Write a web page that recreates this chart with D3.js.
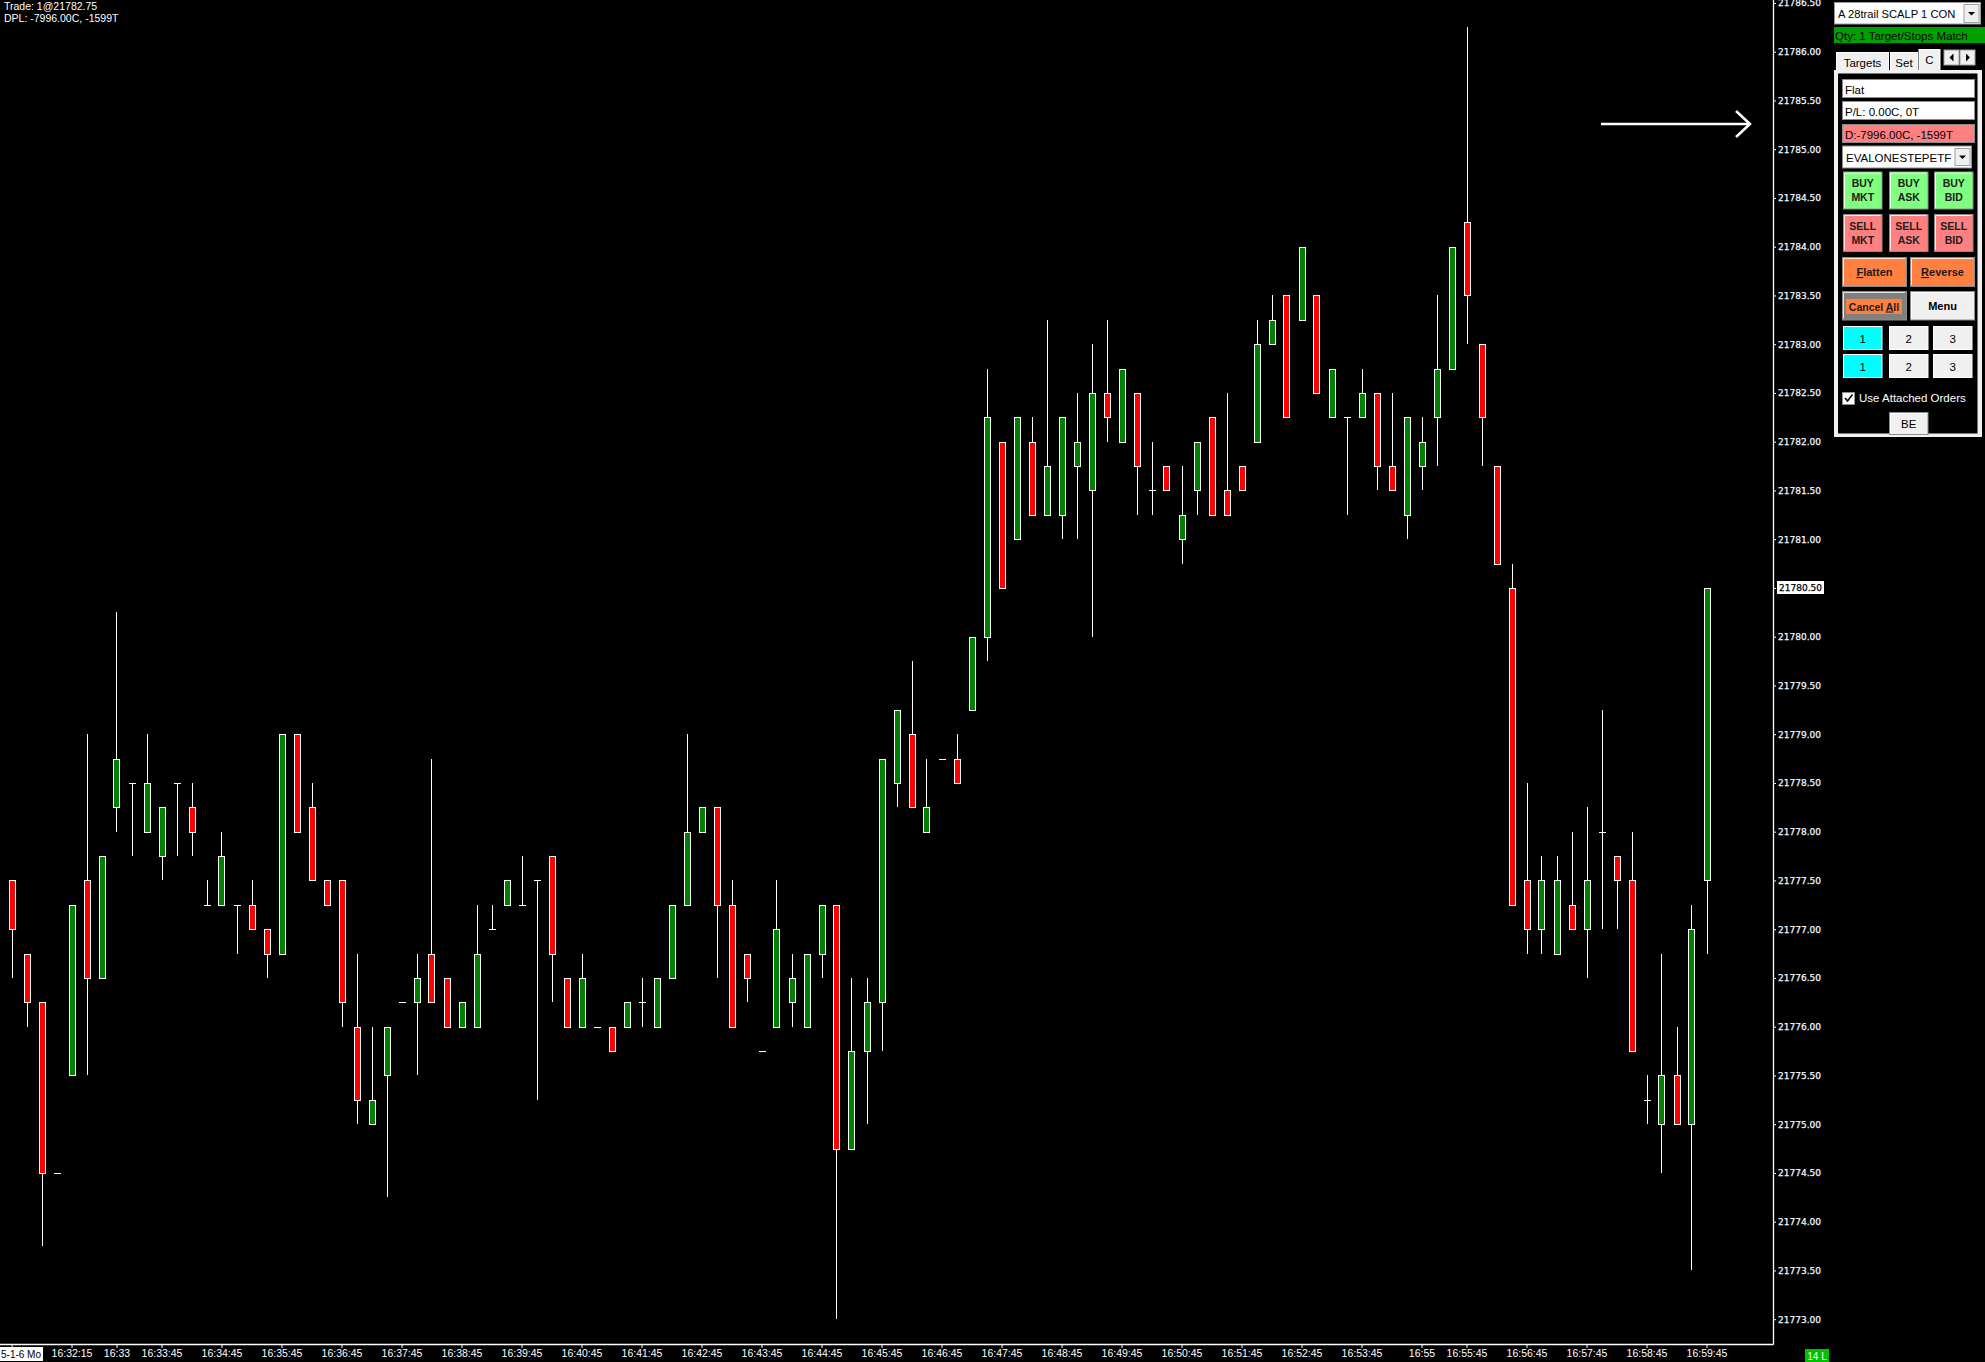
<!DOCTYPE html>
<html><head><meta charset="utf-8">
<script src="https://cdn.jsdelivr.net/npm/d3@7"></script>
<style>
html,body{margin:0;padding:0;background:#000;overflow:hidden;}
svg{display:block;}
</style></head><body>
<svg id="c" width="1985" height="1362"></svg>
<script>
// ---------- DATA (15-second bars) ----------
const opens  = [21777.50,21776.75,21776.25,21774.50,21775.50,21777.50,21776.50,21778.25,21778.50,21778.00,
                21777.75,21778.50,21778.25,21777.25,21777.25,21777.25,21777.25,21777.00,21776.75,21779.00,
                21778.25,21777.50,21777.50,21776.00,21775.00,21775.50,21776.25,21776.25,21776.75,21776.50,
                21776.00,21776.00,21777.00,21777.25,21777.25,21777.50,21777.75,21776.50,21776.00,21776.00,
                21776.00,21776.00,21776.25,21776.00,21776.50,21777.25,21778.00,21778.25,21777.25,21776.75,
                21775.75,21776.00,21776.25,21776.00,21776.75,21777.25,21774.75,21775.75,21776.25,21778.50,
                21779.00,21778.00,21778.75,21778.75,21779.25,21780.00,21782.00,21781.00,21782.00,21781.25,
                21781.25,21781.75,21781.50,21782.50,21782.00,21782.50,21781.50,21781.75,21781.00,21781.50,
                21782.25,21781.50,21781.75,21782.00,21783.00,21783.50,21783.25,21783.50,21782.25,21782.25,
                21782.25,21782.50,21781.75,21781.25,21781.75,21782.25,21782.75,21784.25,21783.00,21781.75,
                21780.50,21777.50,21777.00,21776.75,21777.25,21777.00,21778.00,21777.75,21777.50,21775.25,
                21775.00,21775.50,21775.00,21777.50];
const highs  = [21777.50,21776.75,21776.25,21774.50,21777.25,21779.00,21777.75,21780.25,21778.50,21779.00,
                21778.25,21778.50,21778.50,21777.50,21778.00,21777.25,21777.50,21777.00,21779.00,21779.00,
                21778.50,21777.50,21777.50,21776.75,21776.00,21776.00,21776.25,21776.75,21778.75,21776.50,
                21776.25,21777.25,21777.25,21777.50,21777.75,21777.50,21777.75,21776.50,21776.75,21776.00,
                21776.00,21776.25,21776.50,21776.50,21777.25,21779.00,21778.25,21778.25,21777.50,21776.75,
                21775.75,21777.50,21776.75,21776.75,21777.25,21777.25,21776.50,21776.50,21778.75,21779.25,
                21779.75,21778.75,21778.75,21779.00,21780.00,21782.75,21782.00,21782.25,21782.25,21783.25,
                21782.25,21782.50,21783.00,21783.25,21782.75,21782.50,21782.00,21781.75,21781.75,21782.00,
                21782.25,21782.50,21781.75,21783.25,21783.50,21783.50,21784.00,21783.50,21782.75,21782.25,
                21782.75,21782.50,21782.50,21782.25,21782.25,21783.50,21784.00,21786.25,21783.00,21781.75,
                21780.75,21778.50,21777.75,21777.75,21778.00,21778.25,21779.25,21777.75,21778.00,21775.50,
                21776.75,21776.00,21777.25,21777.50];
const lows   = [21776.50,21776.00,21773.75,21774.50,21775.50,21775.50,21776.50,21778.00,21777.75,21778.00,
                21777.50,21777.75,21777.75,21777.25,21777.25,21776.75,21777.00,21776.50,21776.75,21778.00,
                21777.50,21777.25,21776.00,21775.00,21775.00,21774.25,21776.25,21775.50,21776.25,21776.00,
                21776.00,21776.00,21777.00,21777.25,21777.25,21775.25,21776.25,21776.00,21776.00,21776.00,
                21775.75,21776.00,21776.00,21776.00,21776.50,21777.25,21778.00,21776.50,21776.00,21776.25,
                21775.75,21776.00,21776.00,21776.00,21776.50,21773.00,21774.75,21775.00,21775.75,21778.25,
                21778.25,21778.00,21778.75,21778.50,21779.25,21779.75,21780.50,21781.00,21781.25,21781.25,
                21781.00,21781.00,21780.00,21782.00,21782.00,21781.25,21781.25,21781.50,21780.75,21781.25,
                21781.25,21781.25,21781.50,21782.00,21783.00,21782.25,21783.25,21782.50,21782.25,21781.25,
                21782.25,21781.50,21781.50,21781.00,21781.50,21781.75,21782.75,21783.00,21781.75,21780.75,
                21777.25,21776.75,21776.75,21776.75,21777.00,21776.50,21777.00,21777.00,21775.75,21775.00,
                21774.50,21775.00,21773.50,21776.75];
const closes = [21777.00,21776.25,21774.50,21774.50,21777.25,21776.50,21777.75,21778.75,21778.50,21778.50,
                21778.25,21778.50,21778.00,21777.25,21777.75,21777.25,21777.00,21776.75,21779.00,21778.00,
                21777.50,21777.25,21776.25,21775.25,21775.25,21776.00,21776.25,21776.50,21776.25,21776.00,
                21776.25,21776.75,21777.00,21777.50,21777.25,21777.50,21776.75,21776.00,21776.50,21776.00,
                21775.75,21776.25,21776.25,21776.50,21777.25,21778.00,21778.25,21777.25,21776.00,21776.50,
                21775.75,21777.00,21776.50,21776.75,21777.25,21774.75,21775.75,21776.25,21778.75,21779.25,
                21778.25,21778.25,21778.75,21778.50,21780.00,21782.25,21780.50,21782.25,21781.25,21781.75,
                21782.25,21782.00,21782.50,21782.25,21782.75,21781.75,21781.50,21781.50,21781.25,21782.00,
                21781.25,21781.25,21781.50,21783.00,21783.25,21782.25,21784.00,21782.50,21782.75,21782.25,
                21782.50,21781.75,21781.50,21782.25,21782.00,21782.75,21784.00,21783.50,21782.25,21780.75,
                21777.25,21777.00,21777.50,21777.50,21777.00,21777.50,21778.00,21777.50,21775.75,21775.25,
                21775.50,21775.00,21777.00,21780.50];
const xTickIdx    = [0,4,7,10,14,18,22,26,30,34,38,42,46,50,54,58,62,66,70,74,78,82,86,90,94,97,101,105,109,113];
const xTickLabels = ["5-1-6 Mo","16:32:15","16:33","16:33:45","16:34:45","16:35:45","16:36:45","16:37:45",
                     "16:38:45","16:39:45","16:40:45","16:41:45","16:42:45","16:43:45","16:44:45","16:45:45",
                     "16:46:45","16:47:45","16:48:45","16:49:45","16:50:45","16:51:45","16:52:45","16:53:45",
                     "16:55","16:55:45","16:56:45","16:57:45","16:58:45","16:59:45"];
const yTicks = [21773.00,21773.50,21774.00,21774.50,21775.00,21775.50,21776.00,21776.50,21777.00,21777.50,
                21778.00,21778.50,21779.00,21779.50,21780.00,21780.50,21781.00,21781.50,21782.00,21782.50,
                21783.00,21783.50,21784.00,21784.50,21785.00,21785.50,21786.00,21786.50];
const lastPrice = 21780.50;
const infoLines = ["Trade: 1@21782.75","DPL: -7996.00C, -1599T"];

// ---------- CHART ----------
const svg = d3.select('#c');
svg.append('rect').attr('width',1985).attr('height',1362).attr('fill','#000');

const plotRight = 1773, plotBottom = 1344;
const x = d3.scaleLinear().domain([0, opens.length-1]).range([11.5, 11.5 + (opens.length-1)*15]);
const y = d3.scaleLinear().domain([21773, 21786]).range([1319.2, 51.7]);

const bars = d3.range(opens.length).map(i => ({i, o:opens[i], h:highs[i], l:lows[i], c:closes[i]}));
const cg = svg.append('g').attr('shape-rendering','crispEdges');
const cx = d => Math.round(x(d.i)) + 0.5;

cg.selectAll('line.wick').data(bars).join('line')
  .attr('x1',cx).attr('x2',cx)
  .attr('y1',d=>Math.round(y(d.h))).attr('y2',d=>Math.round(y(d.l)))
  .attr('stroke','#fff').attr('stroke-width',1);

cg.selectAll('rect.body').data(bars.filter(d=>d.o!==d.c)).join('rect')
  .attr('x',d=>cx(d)-3).attr('width',6)
  .attr('y',d=>Math.round(y(Math.max(d.o,d.c)))+0.5)
  .attr('height',d=>Math.round(y(Math.min(d.o,d.c))) - Math.round(y(Math.max(d.o,d.c))))
  .attr('fill',d=>d.c>d.o ? '#008000' : '#ff0000')
  .attr('stroke','#fff').attr('stroke-width',1);

cg.selectAll('line.doji').data(bars.filter(d=>d.o===d.c)).join('line')
  .attr('x1',d=>cx(d)-3.5).attr('x2',d=>cx(d)+3.5)
  .attr('y1',d=>Math.round(y(d.o))+0.5).attr('y2',d=>Math.round(y(d.o))+0.5)
  .attr('stroke','#fff').attr('stroke-width',1);

// axes lines
svg.append('line').attr('x1',plotRight+0.5).attr('x2',plotRight+0.5).attr('y1',0).attr('y2',plotBottom+0.5)
  .attr('stroke','#fff').attr('stroke-width',1.3);
svg.append('line').attr('x1',0).attr('x2',plotRight+0.5).attr('y1',plotBottom+0.5).attr('y2',plotBottom+0.5)
  .attr('stroke','#fff').attr('stroke-width',1.3);

// y axis
const yAxis = d3.axisRight(y).tickValues(yTicks).tickSize(3).tickPadding(2).tickFormat(d=>d.toFixed(2));
const gy = svg.append('g').attr('transform',`translate(${plotRight},0)`).call(yAxis);
gy.select('.domain').remove();
gy.selectAll('line').attr('stroke','#fff');
gy.selectAll('text').attr('fill','#f4f8ff').attr('stroke','#f4f8ff').attr('stroke-width',0.25)
  .attr('font-family','DejaVu Sans, sans-serif').attr('font-size',9);

// last price marker
const lp = svg.append('g');
lp.append('rect').attr('x',1777).attr('y',Math.round(y(lastPrice))-7).attr('width',47).attr('height',13).attr('fill','#fff');
lp.append('text').attr('x',1779).attr('y',y(lastPrice)).attr('dy','0.32em').attr('fill','#000')
  .attr('stroke','#000').attr('stroke-width',0.25)
  .attr('font-family','DejaVu Sans, sans-serif').attr('font-size',9).text(lastPrice.toFixed(2));

// x axis
const xAxis = d3.axisBottom(x).tickValues(xTickIdx).tickSize(4).tickPadding(2).tickFormat((d,k)=>xTickLabels[k]);
const gx = svg.append('g').attr('transform',`translate(0,${plotBottom})`).call(xAxis);
gx.select('.domain').remove();
gx.selectAll('line').attr('stroke','#fff');
gx.selectAll('text').attr('fill','#fff').attr('font-family','Liberation Sans, Arial, sans-serif').attr('font-size',10.5);
gx.selectAll('.tick').filter((d,k)=>k===0).select('text').remove();
svg.append('rect').attr('x',0).attr('y',1347).attr('width',43).attr('height',14).attr('fill','#fff');
svg.append('text').attr('x',1).attr('y',1358).attr('fill','#000')
  .attr('font-family','Liberation Sans, Arial, sans-serif').attr('font-size',10).attr('textLength',40)
  .text(xTickLabels[0]);

// info text
svg.selectAll('text.info').data(infoLines).join('text')
  .attr('x',4).attr('y',(d,k)=>10+k*12.3).attr('fill','#fff')
  .attr('font-family','Liberation Sans, Arial, sans-serif').attr('font-size',10.5).text(d=>d);

// arrow
svg.append('line').attr('x1',1601).attr('x2',1749).attr('y1',124).attr('y2',124).attr('stroke','#fff').attr('stroke-width',2.5);
svg.append('polyline').attr('points','1736,111 1750,124 1736,137').attr('fill','none').attr('stroke','#fff').attr('stroke-width',2.5);

// "14 L" marker
svg.append('rect').attr('x',1805).attr('y',1349).attr('width',24).attr('height',13).attr('fill','#00c000');
svg.append('text').attr('x',1817).attr('y',1359.5).attr('text-anchor','middle').attr('fill','#fff')
  .attr('font-family','Liberation Sans, Arial, sans-serif').attr('font-size',10).text('14 L');

// ---------- ORDER PANEL ----------
const P = svg.append('g').attr('font-family','Liberation Sans, Arial, sans-serif').attr('font-size',11.5);
function rect(x0,y0,w,h,fill,stroke,sw){
  return P.append('rect').attr('x',x0).attr('y',y0).attr('width',w).attr('height',h)
    .attr('fill',fill).attr('stroke',stroke||'none').attr('stroke-width',sw||1);
}
function text(x0,y0,s,opt){
  opt = opt||{};
  return P.append('text').attr('x',x0).attr('y',y0).attr('fill',opt.fill||'#000')
    .attr('text-anchor',opt.anchor||'start').attr('font-weight',opt.bold?'bold':'normal')
    .attr('font-size',opt.size||11.5).text(s);
}
function button(x0,y0,w,h,fill){
  rect(x0+0.5,y0+0.5,w-1,h-1,fill,'#8c8c8c');
  P.append('path').attr('d',`M${x0+1.5},${y0+h-2} V${y0+1.5} H${x0+w-2}`).attr('fill','none').attr('stroke','#ffffff').attr('stroke-width',1).attr('opacity',0.8);
}
function ddArrow(bx,by,bw,bh){
  rect(bx,by,bw,bh,'#f0f0f0','#a0a0a0');
  const mx=bx+bw/2, my=by+bh/2;
  P.append('path').attr('d',`M${mx-3.5},${my-1.5} L${mx+3.5},${my-1.5} L${mx},${my+2} Z`).attr('fill','#000');
}

// top dropdown
rect(1834.5,2.5,146,21.5,'#fff','#9a9a9a');
text(1838,18,'A 28trail SCALP 1 CON',{size:11.2});
ddArrow(1964,4.5,15,18);
// green bar
rect(1834,27,151,16,'#00a000');
text(1835,39.5,'Qty: 1 Target/Stops Match',{size:11.5});
// tabs
rect(1836.5,52.5,52,19,'#f0f0f0','#ffffff');
text(1862.5,66.5,'Targets',{anchor:'middle'});
rect(1890.5,52.5,27,19,'#f0f0f0','#ffffff');
text(1904,66.5,'Set',{anchor:'middle'});
rect(1919,49.5,21,22,'#f0f0f0','#ffffff');
text(1929.5,64,'C',{anchor:'middle'});
rect(1944,50,15,15,'#f0f0f0','#a0a0a0');
P.append('path').attr('d','M1953.5,53.5 L1953.5,61.5 L1949.5,57.5 Z').attr('fill','#000');
rect(1960,50,15,15,'#f0f0f0','#a0a0a0');
P.append('path').attr('d','M1966,53.5 L1966,61.5 L1970,57.5 Z').attr('fill','#000');
// panel frame
rect(1834,70,148,367,'#f0f0f0');
rect(1838,73.5,139.5,360,'#000');
// status boxes
rect(1842.5,79.5,132,18,'#fff','#8c8c8c');
text(1845,93.5,'Flat');
rect(1842.5,101.5,132,18,'#fff','#8c8c8c');
text(1845,115.5,'P/L: 0.00C, 0T');
rect(1842.5,124.5,132,18,'#ff8080','#8c8c8c');
text(1845,138.5,'D:-7996.00C, -1599T');
// account dropdown
rect(1842.5,146,129,22,'#fff','#8c8c8c');
text(1846,162,'EVALONESTEPETF',{size:11.5});
ddArrow(1955,148.5,15,17);

// buy / sell buttons
const colX = [1843, 1889, 1934], colW = 39.5;
const buyLabels = [['BUY','MKT'],['BUY','ASK'],['BUY','BID']];
const sellLabels = [['SELL','MKT'],['SELL','ASK'],['SELL','BID']];
buyLabels.forEach((lb,k)=>{
  button(colX[k],171.5,colW,38,'#80ff80');
  text(colX[k]+colW/2,187,lb[0],{anchor:'middle',bold:true,size:10.5,fill:'#202020'});
  text(colX[k]+colW/2,201,lb[1],{anchor:'middle',bold:true,size:10.5,fill:'#202020'});
});
sellLabels.forEach((lb,k)=>{
  button(colX[k],214,colW,38,'#ff8080');
  text(colX[k]+colW/2,229.5,lb[0],{anchor:'middle',bold:true,size:10.5,fill:'#202020'});
  text(colX[k]+colW/2,243.5,lb[1],{anchor:'middle',bold:true,size:10.5,fill:'#202020'});
});
// flatten / reverse
function ulText(cxp,yy,first,rest){
  const t = P.append('text').attr('x',cxp).attr('y',yy).attr('text-anchor','middle').attr('font-weight','bold').attr('font-size',11).attr('fill','#1a1a1a');
  t.append('tspan').attr('text-decoration','underline').text(first);
  t.append('tspan').text(rest);
  return t;
}
button(1842,257,65,30,'#ff8040');
ulText(1874.5,276,'F','latten');
button(1910,257,65,30,'#ff8040');
ulText(1942.5,276,'R','everse');
// cancel all / menu
button(1842,291,65,29.5,'#808080');
rect(1846,299,56,15,'#ff8040');
(function(){
  const t = P.append('text').attr('x',1874).attr('y',310.5).attr('text-anchor','middle').attr('font-weight','bold').attr('font-size',10.5).attr('fill','#1a1a1a');
  t.append('tspan').text('Cancel ');
  t.append('tspan').attr('text-decoration','underline').text('A');
  t.append('tspan').text('ll');
})();
button(1910,291,65,29.5,'#f0f0f0');
text(1942.5,310,'Menu',{anchor:'middle',bold:true,size:11});
// quantity rows
const qtyLabels = ['1','2','3'];
const qX = [1843,1889,1933], qW = 39.5;
[326,354].forEach(yy=>{
  qtyLabels.forEach((q,k)=>{
    rect(qX[k]+0.5,yy+0.5,qW-1,23,k===0?'#00ffff':'#f0f0f0','#ffffff');
    text(qX[k]+qW/2,yy+17,q,{anchor:'middle'});
  });
});
// checkbox
rect(1842.5,392.5,12,12,'#fff','#8c8c8c');
P.append('path').attr('d','M1845,398 L1847.5,401 L1852.5,394.5').attr('fill','none').attr('stroke','#000').attr('stroke-width',1.6);
text(1859,402,'Use Attached Orders',{fill:'#fff',size:11.5});
// BE
button(1889,412,39.5,23,'#f0f0f0');
text(1908.75,428,'BE',{anchor:'middle'});
</script>
</body></html>
